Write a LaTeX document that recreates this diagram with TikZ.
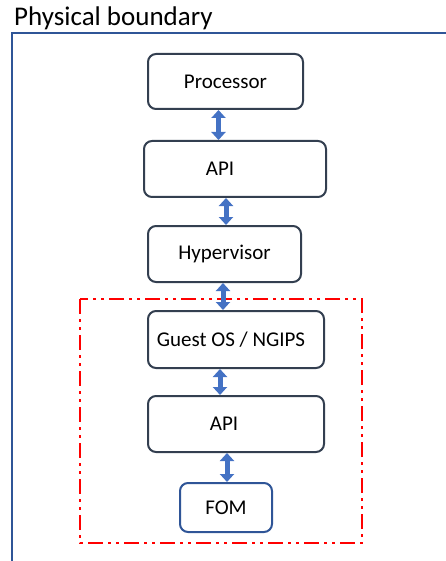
\documentclass[tikz,border=0pt]{standalone}
\usepackage{fontspec}
\setmainfont{Carlito}
\usetikzlibrary{arrows.meta}
\definecolor{boxgray}{HTML}{333F50}
\definecolor{bndblue}{HTML}{2F5597}
\definecolor{arrblue}{HTML}{4472C4}
\tikzset{
  blk/.style={draw=boxgray, line width=2pt, rounded corners=8pt, fill=white, font=\fontsize{21}{24}\selectfont, inner sep=0pt},
  fomblk/.style={blk, draw=bndblue},
  dblarrow/.style={draw=arrblue, line width=5pt, {Triangle[width=14pt,length=8pt]}-{Triangle[width=14pt,length=8pt]}},
  redzone/.style={draw=red, line width=2.2pt, dash pattern=on 15pt off 5pt on 3pt off 5pt on 3pt off 5pt}
}
\begin{document}
\begin{tikzpicture}[x=1pt,y=-1pt]
\useasboundingbox (0,0) rectangle (445,561);
\node[anchor=base west, font=\fontsize{27}{30}\selectfont, inner sep=0pt] (title) at (14,26) {Physical boundary};
\coordinate (bl) at (12,570);
\coordinate (tl) at (12,33);
\coordinate (tr) at (455,33);
\draw[bndblue, line width=1.5pt] (bl) -- (tl) -- (tr);
\draw[redzone] (80,299) rectangle (362,543);
\node[blk, minimum width=155pt, minimum height=55pt] (proc) at (225.5,81.5) {Processor};
\node[blk, minimum width=182pt, minimum height=56pt] (api1) at (235,169) {\hspace*{-30pt}API};
\node[blk, minimum width=153pt, minimum height=56pt] (hyp) at (224.5,254) {Hypervisor};
\node[blk, minimum width=176pt, minimum height=57pt] (guest) at (236,339.5) {\hspace*{-10pt}Guest OS / NGIPS};
\node[blk, minimum width=176pt, minimum height=56pt] (api2) at (236,424) {\hspace*{-24pt}API};
\node[fomblk, minimum width=92pt, minimum height=49pt] (fom) at (226,507.5) {FOM};
\draw[dblarrow] ([xshift=-7pt]proc.south) -- ([xshift=-7pt]proc.south |- api1.north);
\draw[dblarrow] ([xshift=-9pt]api1.south) -- ([xshift=-9pt]api1.south |- hyp.north);
\draw[dblarrow] ([xshift=-1.5pt]hyp.south) -- ([xshift=-1.5pt]hyp.south |- guest.north);
\draw[dblarrow] ([xshift=-16pt]guest.south) -- ([xshift=-16pt]guest.south |- api2.north);
\draw[dblarrow] ([xshift=-9pt]api2.south) -- ([xshift=-9pt]api2.south |- fom.north);
\end{tikzpicture}
\end{document}
